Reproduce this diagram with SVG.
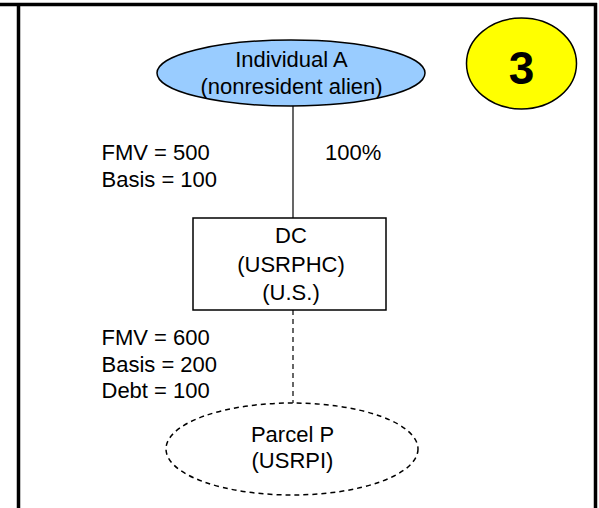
<svg xmlns="http://www.w3.org/2000/svg" width="599" height="508" viewBox="0 0 599 508">
<style>
text{font-family:"Liberation Sans",Arial,sans-serif;font-size:22px;fill:#000}
.c{text-anchor:middle}
.frame{stroke:#000;stroke-width:3.5;fill:none}
.shape{stroke:#000;stroke-width:1.5}
</style>
<rect width="599" height="508" fill="#fff"/>
<g id="frame">
<line class="frame" x1="0" y1="4.5" x2="597" y2="4.5"/>
<line class="frame" x1="18.5" y1="4.5" x2="18.5" y2="508"/>
<line class="frame" x1="595.5" y1="3" x2="595.5" y2="508"/>
</g>
<g id="connectors">
<line x1="293" y1="106" x2="293" y2="218" stroke="#000" stroke-width="1.2"/>
<line x1="293" y1="310" x2="293" y2="403" stroke="#000" stroke-width="1.2" stroke-dasharray="5,4"/>
</g>
<g id="individualA">
<ellipse class="shape" cx="291" cy="73" rx="134" ry="33" fill="#99ccff"/>
<text class="c" x="291.5" y="66.5">Individual A</text>
<text class="c" x="291.5" y="93.5">(nonresident alien)</text>
</g>
<g id="badge">
<ellipse class="shape" cx="521.5" cy="63.5" rx="55" ry="45.5" fill="#ffff00"/>
<text class="c" x="521.5" y="84.3" style="font-size:46px;font-weight:bold">3</text>
</g>
<g id="dc">
<rect class="shape" x="193" y="218" width="193" height="92" fill="#fff"/>
<text class="c" x="291" y="243">DC</text>
<text class="c" x="291" y="271.5">(USRPHC)</text>
<text class="c" x="291" y="300">(U.S.)</text>
</g>
<g id="parcelP">
<ellipse class="shape" cx="292" cy="449" rx="126" ry="46" fill="none" stroke-dasharray="5,4"/>
<text class="c" x="292.5" y="441.5">Parcel P</text>
<text class="c" x="292.5" y="468">(USRPI)</text>
</g>
<g id="labels">
<text x="101.5" y="160">FMV = 500</text>
<text x="101.5" y="186.7">Basis = 100</text>
<text x="325" y="160">100%</text>
<text x="101.5" y="345">FMV = 600</text>
<text x="101.5" y="371.7">Basis = 200</text>
<text x="101.5" y="398">Debt = 100</text>
</g>
</svg>
